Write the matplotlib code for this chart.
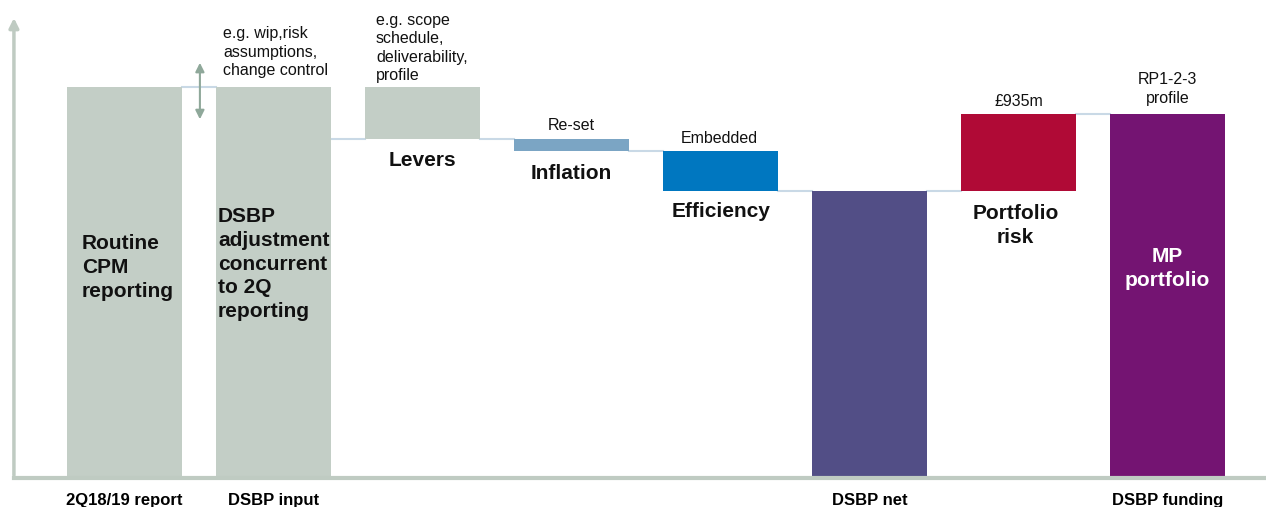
import matplotlib.pyplot as plt

plt.rcParams['font.family'] = ['Liberation Sans', 'DejaVu Sans']

# Waterfall steps (GBP m): bottom and top of each bar
steps = ['2Q18/19 report', 'DSBP input', 'Levers', 'Inflation', 'Efficiency',
         'DSBP net', 'Portfolio risk', 'DSBP funding']
bottoms = [0, 0, 4115, 3970, 3485, 0, 3485, 0]
tops = [4750, 4750, 4750, 4115, 3970, 3485, 4420, 4420]
colors = ['#C3CEC6', '#C3CEC6', '#C3CEC6', '#7BA5C4', '#0077C0',
          '#524E86', '#B00A36', '#741472']
# level where each connector leaves bar i for bar i+1
links = [4750, 4115, 4115, 3970, 3485, 3485, 4420]

tick_labels = ['2Q18/19 report', 'DSBP input', '', '', '', 'DSBP net', '', 'DSBP funding']

axis_col = '#BFCBC2'
link_col = '#C9D9E6'
width = 0.77

fig = plt.figure(figsize=(12.66, 5.07), dpi=100)
ax = fig.add_axes([0.011, 0.057, 0.989, 0.913])

x = range(len(steps))
heights = [t - b for t, b in zip(tops, bottoms)]
ax.bar(x, heights, bottom=bottoms, width=width, color=colors, zorder=2)

for i, lvl in enumerate(links):
    ax.plot([i + width / 2, i + 1 - width / 2], [lvl, lvl], color=link_col, lw=1.5, zorder=1)

ax.set_xlim(-0.742, 7.66)
ax.set_ylim(0, 5620)
for s in ax.spines.values():
    s.set_visible(False)
ax.set_yticks([])
ax.set_xticks(list(x))
ax.set_xticklabels(tick_labels, fontsize=12, fontweight='bold')
ax.tick_params(axis='x', length=0, pad=11)

# axes: flat baseline and arrowed vertical axis
ax.plot([0, 1], [0, 0], transform=ax.transAxes, color=axis_col, lw=3, clip_on=False, zorder=3)
ax.annotate('', xy=(0, 1.0), xytext=(0, 0), xycoords='axes fraction',
            arrowprops=dict(arrowstyle='-|>', color=axis_col, lw=2.5, mutation_scale=14))

# double arrow between the two reports
ax.annotate('', xy=(0.506, 5076), xytext=(0.506, 4323),
            arrowprops=dict(arrowstyle='<|-|>', color='#8FA89A', lw=1.5, mutation_scale=13))

big = dict(fontsize=15, fontweight='bold', color='#111111', linespacing=1.33)
small = dict(fontsize=11.5, color='#111111', linespacing=1.3)

ax.text(-0.286, 2562, 'Routine\nCPM\nreporting', ha='left', va='center', **big)
ax.text(0.627, 2599, 'DSBP\nadjustment\nconcurrent\nto 2Q\nreporting', ha='left', va='center', **big)
ax.text(2, 3862, 'Levers', ha='center', va='center', **big)
ax.text(3, 3704, 'Inflation', ha='center', va='center', **big)
ax.text(4, 3242, 'Efficiency', ha='center', va='center', **big)
ax.text(5.98, 3072, 'Portfolio\nrisk', ha='center', va='center', **big)
ax.text(7, 2550, 'MP\nportfolio', ha='center', va='center',
        **{**big, 'color': 'white'})

ax.text(0.661, 5173, 'e.g. wip,risk\nassumptions,\nchange control', ha='left', va='center', **small)
ax.text(1.687, 5222, 'e.g. scope\nschedule,\ndeliverability,\nprofile', ha='left', va='center', **small)
ax.text(3, 4287, 'Re-set', ha='center', va='center', **small)
ax.text(3.99, 4129, 'Embedded', ha='center', va='center', **small)
ax.text(6, 4578, '£935m', ha='center', va='center', **small)
ax.text(7, 4724, 'RP1-2-3\nprofile', ha='center', va='center', **small)

fig.savefig('out.png', dpi=100)
